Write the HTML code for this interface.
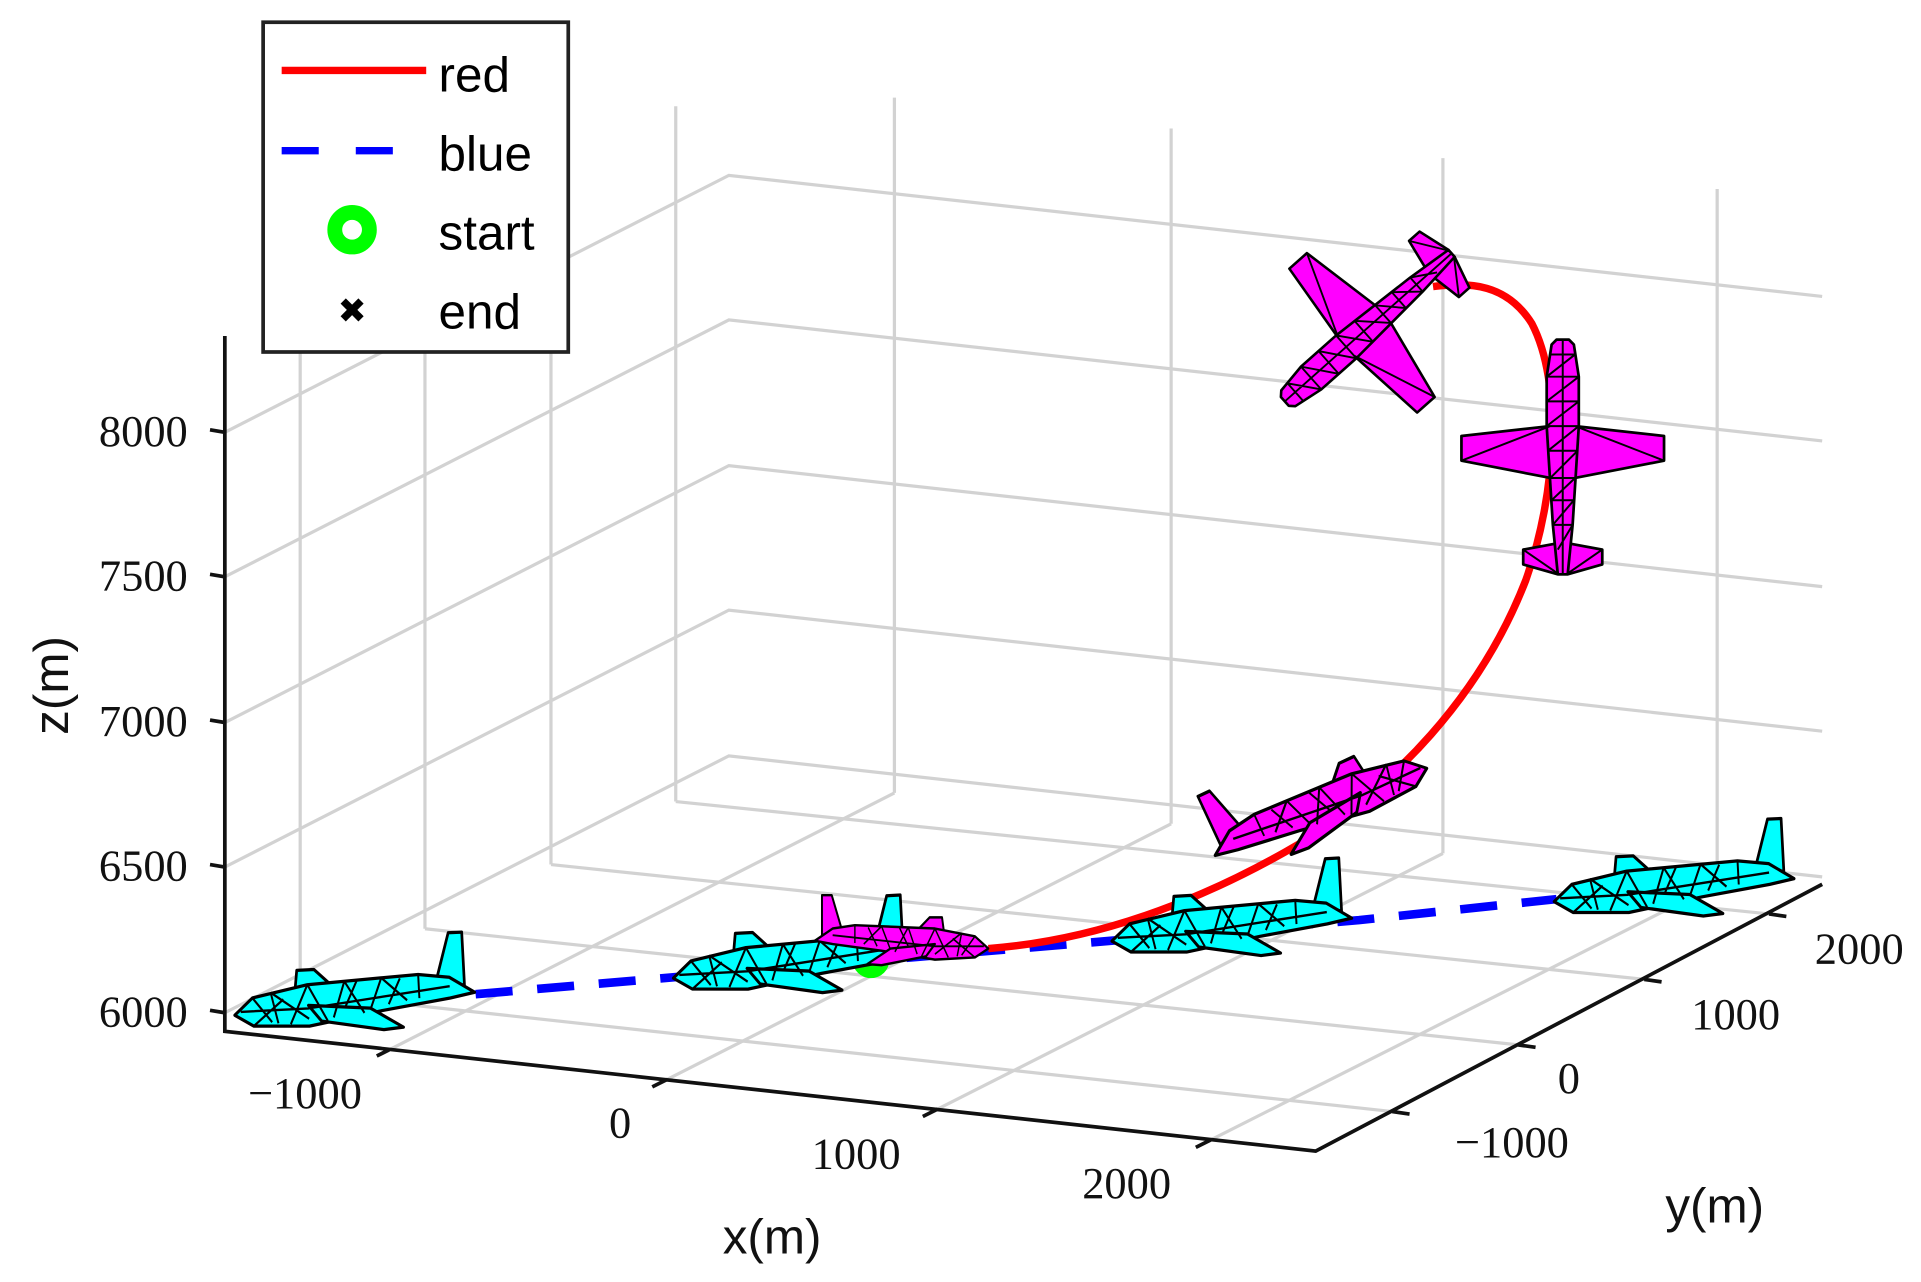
<!DOCTYPE html>
<html><head><meta charset="utf-8"><style>html,body{margin:0;padding:0;background:#fff}svg{display:block}</style></head>
<body>
<svg width="1921" height="1282" viewBox="0 0 1555 1038" preserveAspectRatio="none" xmlns="http://www.w3.org/2000/svg">
<defs>
<g id="side" stroke="#000" stroke-width="2.2" stroke-linejoin="round">
  <polygon points="50,-16 52,-28 66,-28 78,-18"/>
  <polygon points="165,-18 176,-48 187,-48 187,-12"/>
  <polygon points="0,0 15,-11 60,-18 150,-21 175,-18 195,-7 175,-4 120,2 60,10 15,8"/>
  <polygon points="60,-4 110,0 136,14 120,15 70,7"/>
  <path d="M15,-11 L30,6 M30,-14 L35,7 M60,-18 L45,8 M60,-18 L75,7 M90,-19 L80,5 M90,-19 L105,3 M120,-20 L110,1 M120,-20 L140,-4 M150,-21 L150,-5 M5,-2 L60,-2 L175,-12 M30,-14 L60,5 M15,8 L40,-9 M90,-2 L100,-19 M135,-19 L125,-2" fill="none" stroke-width="1.6"/>
</g>
<g id="top" stroke="#000" stroke-width="2.2" stroke-linejoin="round">
  <polygon points="165,-5 170,-32 182,-32 190,-4 190,4 182,32 170,32 165,5"/>
  <polygon points="70,-10 78,-82 98,-82 112,-10 112,10 98,82 78,82 70,10"/>
  <polygon points="0,-5 4,-9 30,-13 70,-13 150,-8 190,-4 190,4 150,8 70,13 30,13 4,9 0,5"/>
  <path d="M70,-10 L98,-82 M70,10 L98,82 M12,-10 L12,10 M30,-13 L30,13 M50,-13 L50,13 M70,-13 L70,13 M90,-12 L90,12 M112,-10 L112,10 M130,-9 L130,9 M150,-8 L150,8 M12,-10 L30,13 M30,-13 L50,13 M50,-13 L70,13 M70,-13 L90,12 M90,-12 L112,10 M112,-10 L130,9 M130,-9 L150,8 M150,-8 L170,4 M0,0 L190,0 M170,-32 L190,-3 M170,32 L190,3" fill="none" stroke-width="1.6"/>
</g>
</defs>
<g stroke="#d2d2d2" stroke-width="2.6" fill="none">
  <polyline points="182,350 590,142 1475,240"/>
  <polyline points="182,467 590,259 1475,357"/>
  <polyline points="182,585 590,377 1475,475"/>
  <polyline points="182,702 590,494 1475,592"/>
  <polyline points="182,820 590,612 1475,710"/>
  <line x1="243" y1="241" x2="243" y2="804"/>
  <line x1="344" y1="189" x2="344" y2="752"/>
  <line x1="446" y1="137" x2="446" y2="700"/>
  <line x1="547" y1="86" x2="547" y2="649"/>
  <line x1="724" y1="79" x2="724" y2="642"/>
  <line x1="948" y1="104" x2="948" y2="667"/>
  <line x1="1168" y1="128" x2="1168" y2="691"/>
  <line x1="1390" y1="153" x2="1390" y2="716"/>
  <line x1="315" y1="850" x2="724" y2="642"/>
  <line x1="540" y1="874" x2="948" y2="667"/>
  <line x1="759" y1="898" x2="1168" y2="691"/>
  <line x1="980" y1="923" x2="1390" y2="716"/>
  <line x1="243" y1="804" x2="1127" y2="900"/>
  <line x1="344" y1="752" x2="1229" y2="846"/>
  <line x1="446" y1="700" x2="1331" y2="793"/>
  <line x1="547" y1="649" x2="1432" y2="740"/>
</g>
<g stroke="#111" stroke-width="3" fill="none">
  <polyline points="182,272 182,835 1065,932 1475,716"/>
  <line x1="182" y1="350" x2="170" y2="348"/><line x1="182" y1="467" x2="170" y2="465"/>
  <line x1="182" y1="585" x2="170" y2="583"/><line x1="182" y1="702" x2="170" y2="700"/>
  <line x1="182" y1="820" x2="170" y2="818"/>
  <line x1="315" y1="850" x2="305" y2="855"/><line x1="540" y1="874" x2="528" y2="880"/>
  <line x1="759" y1="898" x2="747" y2="904"/><line x1="980" y1="923" x2="968" y2="929"/>
  <line x1="1127" y1="900" x2="1141" y2="902"/><line x1="1229" y1="846" x2="1243" y2="848"/>
  <line x1="1331" y1="793" x2="1345" y2="795"/><line x1="1432" y1="740" x2="1446" y2="742"/>
</g>
<g font-family="'Liberation Serif',serif" font-size="36" fill="#111">
  <g text-anchor="end">
    <text x="152" y="361">8000</text><text x="152" y="478">7500</text>
    <text x="152" y="596">7000</text><text x="152" y="713">6500</text>
    <text x="152" y="831">6000</text>
  </g>
  <text x="293" y="897" text-anchor="end">−1000</text>
  <text x="502" y="921" text-anchor="middle">0</text>
  <text x="693" y="946" text-anchor="middle">1000</text>
  <text x="912" y="970" text-anchor="middle">2000</text>
  <text x="1270" y="937" text-anchor="end">−1000</text>
  <text x="1270" y="885" text-anchor="middle">0</text>
  <text x="1405" y="833" text-anchor="middle">1000</text>
  <text x="1505" y="780" text-anchor="middle">2000</text>
</g>
<g font-family="'Liberation Sans',sans-serif" font-size="40" fill="#111">
  <text x="625" y="1015" text-anchor="middle">x(m)</text>
  <text x="1388" y="990" text-anchor="middle">y(m)</text>
  <text transform="translate(55,555) rotate(-90)" text-anchor="middle">z(m)</text>
</g>
<path d="M385,805 L560,790 L800,770 L1100,745 L1260,728" stroke="#00f" stroke-width="7" fill="none" stroke-dasharray="30,20"/>
<path d="M800,768 C880,762 960,735 1040,690 C1130,640 1200,560 1235,470 C1260,400 1265,310 1240,262 C1220,230 1190,228 1160,232" stroke="#f00" stroke-width="6" fill="none"/>
<circle cx="1350" cy="713" r="10" fill="#0f0"/>
<circle cx="705" cy="777" r="15" fill="#0f0"/>
<g fill="#00ffff">
  <use href="#side" transform="translate(190,822) rotate(-3) scale(1,1.2)"/>
  <use href="#side" transform="translate(545,792) rotate(-3) scale(1,1.2)"/>
  <use href="#side" transform="translate(900,762) rotate(-3) scale(1,1.2)"/>
  <use href="#side" transform="translate(1258,730) rotate(-3) scale(1,1.2)"/>
</g>
<g fill="#ff00ff">
  <use href="#side" transform="translate(800,768) scale(-0.72,0.9)"/>
  <use href="#side" transform="translate(1155,622) rotate(-25) scale(-0.95,1.2)"/>
  <use href="#top" transform="translate(1265,275) rotate(90)"/>
  <use href="#top" transform="translate(1040,325) rotate(-41.6) scale(0.95)"/>
</g>
<rect x="213" y="18" width="247" height="267" fill="#fff" stroke="#222" stroke-width="3"/>
<line x1="228" y1="57" x2="345" y2="57" stroke="#f00" stroke-width="6"/>
<line x1="228" y1="122" x2="345" y2="122" stroke="#00f" stroke-width="6" stroke-dasharray="30,30"/>
<circle cx="285" cy="186" r="14" fill="none" stroke="#0f0" stroke-width="12"/>
<text x="285" y="261" font-family="'DejaVu Sans',sans-serif" font-size="28" font-weight="bold" text-anchor="middle">✖</text>
<g font-family="'Liberation Sans',sans-serif" font-size="40" fill="#000">
  <text x="355" y="74">red</text><text x="355" y="138">blue</text>
  <text x="355" y="202">start</text><text x="355" y="266">end</text>
</g>
</svg>
</body></html>
